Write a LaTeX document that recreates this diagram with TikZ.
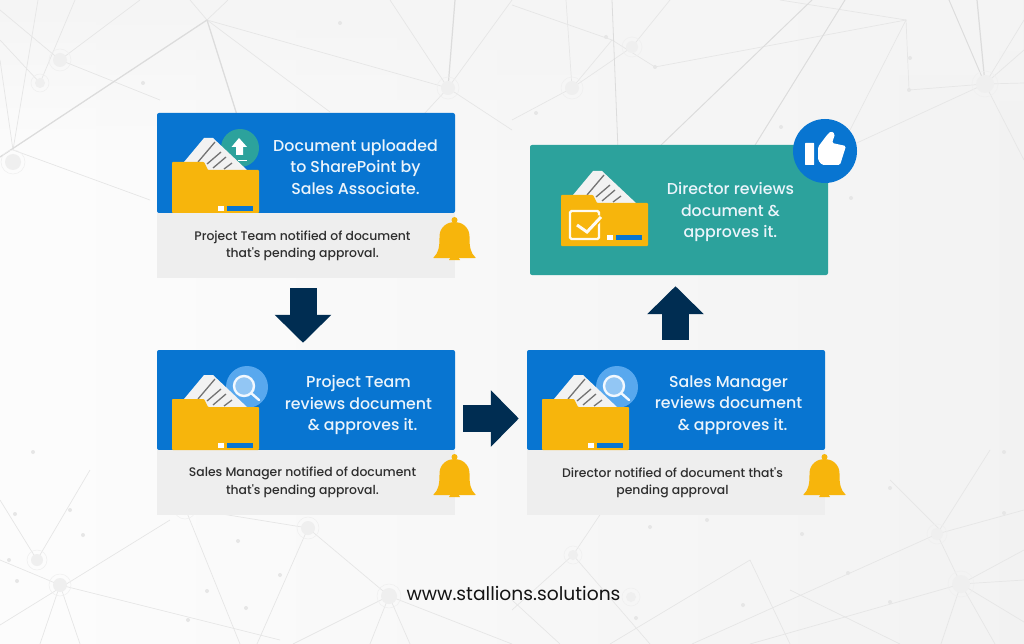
\documentclass[tikz,border=0pt]{standalone}
\usepackage{fontspec}
\setmainfont{Poppins}
\newfontfamily\poppinsmed{Poppins Medium}
\usetikzlibrary{arrows.meta,fadings}
\definecolor{cardblue}{HTML}{0875D1}
\definecolor{cardteal}{HTML}{2CA29C}
\definecolor{notegray}{HTML}{EEEEEE}
\definecolor{foldgold}{HTML}{F7B50C}
\definecolor{arrownavy}{HTML}{002D52}
\definecolor{meshgray}{HTML}{E6E6E6}
\definecolor{meshdark}{HTML}{DCDCDC}
\definecolor{hubgray}{HTML}{EFEFEF}
\definecolor{lensblue}{HTML}{58A8EE}
\tikzset{
  cardhead/.style={rectangle, rounded corners=2pt, inner sep=0pt, minimum width=298pt, minimum height=100pt, fill=cardblue},
  notebox/.style={rectangle, inner sep=0pt, minimum width=298pt, minimum height=65pt, fill=notegray},
  titletext/.style={align=center, inner sep=0pt, text=white!92!cardblue, font={\poppinsmed\fontsize{15.8}{21.3}\selectfont}},
  notetext/.style={align=center, inner sep=0pt, text=black!82, font={\poppinsmed\fontsize{12.4}{17.5}\selectfont}},
  blockarrow/.style={line width=27pt, arrownavy, -{Triangle[length=28pt,width=55pt]}},
  mesh/.style={meshgray, line width=0.7pt},
  docfolder/.pic={
    \fill[white!95!black] (12,-51) -- (32,-75) -- (41,-75) -- (75,-43) -- (75,-30) -- (12,-30) -- cycle;
    \draw[black!55, line width=1.3pt] (26,-51) -- (43,-71) (35,-49) -- (49,-61) (41,-45) -- (54,-56) (52,-44) -- (60,-50);
    \fill[foldgold, rounded corners=0.8pt] (0,0) -- (0,-51) -- (32,-51) -- (36,-43) -- (87,-43) -- (87,0) -- cycle;
  },
  folderbar/.pic={
    \fill[white] (46,-7) rectangle (52,-2);
    \fill[cardblue] (55,-7) rectangle (81,-2);
  },
  lensbadge/.pic={
    \fill[lensblue] (75,-63) circle (21);
    \fill[white!35!lensblue] (72,-64) circle (10);
  },
  lensring/.pic={
    \draw[white!92!lensblue, line width=2.4pt] (72,-64) circle (10);
    \draw[white!92!lensblue, line width=2.4pt, line cap=round] (79,-57) -- (87,-50);
  },
  bellicon/.pic={
    \fill[foldgold] (0,-38) circle (3);
    \fill[foldgold, rounded corners=0.6pt] (-21.5,0) .. controls (-16,-5) and (-15,-11) .. (-15,-21) .. controls (-15,-31) and (-7,-36) .. (0,-36) .. controls (7,-36) and (15,-31) .. (15,-21) .. controls (15,-11) and (16,-5) .. (21.5,0) -- cycle;
    \fill[foldgold] (-5.5,2) -- (5.5,2) arc (0:-180:5.5 and 3.5) -- cycle;
  },
}
\begin{document}
\begin{tikzpicture}[x=1pt,y=-1pt]
\useasboundingbox (0,0) rectangle (1024,644);
% Background
\shade[left color=white!99!black, right color=black!5] (0,0) rectangle (1024,644);
\fill[black!4, path fading=south] (0,0) rectangle (1024,150);
\begin{scope}
\clip (0,0) rectangle (1024,644);
% Mesh, top
\foreach \ax/\ay/\bx/\by in {207/20/190/0, 207/20/228/0, 207/20/0/157, 207/20/448/88, 207/20/330/112, 207/20/237/115,
  448/88/390/0, 448/88/512/0, 448/88/512/130, 448/88/400/140, 13/150/38/0, 13/150/150/200, 13/150/0/60, 60/60/0/10,
  60/60/140/0, 40/83/0/40, 40/83/75/0, 60/60/160/100,
  985/84/949/0, 985/84/1024/20, 985/84/1024/50, 985/84/1024/83, 985/84/1024/160, 985/84/848/147, 985/84/909/90,
  845/0/752/150, 812/0/659/147, 906/20/655/67, 906/20/909/90, 512/5/612/40, 612/40/655/67, 572/88/512/120, 572/88/566/0,
  632/47/670/0, 632/47/572/88, 612/40/572/88, 906/20/780/0, 906/20/850/130}
  {\draw[mesh] (\ax,\ay) -- (\bx,\by);}
\draw[meshdark, line width=1.2pt] (448,88) -- (455,0) (985,84) -- (977,0) (207,20) -- (237,115) (207,20) -- (0,157);
\draw[meshdark, line width=0.8pt] (612,0) -- (618,150) (845,0) -- (752,150) (812,0) -- (659,147) (985,84) -- (949,0);
% Mesh, bottom
\foreach \ax/\ay/\bx/\by in {389/596/293/644, 389/596/370/644, 389/596/410/644, 389/596/512/644, 389/596/308/528,
  308/528/257/644, 308/528/185/508, 185/508/240/644, 0/625/170/520, 60/585/80/644, 60/585/40/644, 60/585/0/560,
  37/560/0/500, 37/560/90/470, 60/585/280/640, 961/584/941/644, 961/584/995/644, 961/584/1024/622, 961/584/1024/580,
  961/584/1024/550, 961/584/750/644, 937/534/961/584, 937/534/1024/510, 937/534/692/644, 937/534/990/450, 750/560/610/644,
  750/560/790/644, 573/555/512/610, 573/555/630/470, 573/555/650/644, 790/590/900/644, 890/480/940/530, 512/600/560/644}
  {\draw[mesh] (\ax,\ay) -- (\bx,\by);}
% Hubs and dots
\foreach \hx/\hy/\hr in {448/88/7, 985/84/9, 961/584/9, 389/596/8, 13/162/8, 60/60/7, 40/83/5, 308/528/7, 185/508/7, 60/585/7, 37/560/6, 572/88/7, 632/47/6, 937/534/6, 573/555/5, 631/597/5}
  {\fill[hubgray] (\hx,\hy) circle (\hr);
   \draw[hubgray, line width=0.5pt] (\hx,\hy) circle (\hr+4);}
\foreach \dx/\dy in {143/83, 340/23, 606/37, 655/67, 536/113, 781/127, 909/90, 910/58, 851/198, 33/452, 15/514, 70/510, 83/535, 238/541,
  9/560, 17/581, 280/575, 207/591, 246/608, 188/620, 650/527, 636/618, 707/520, 802/534, 848/573, 890/602, 1004/452, 890/488, 1004/513, 743/605}
  {\fill[meshgray] (\dx,\dy) circle (2);}
\end{scope}
% Card bodies
\node[cardhead] (uploadhead) at (306,163) {};
\node[notebox] (uploadnote) at (306,245.5) {};
\node[cardhead] (teamhead) at (306,400) {};
\node[notebox] (teamnote) at (306,482.5) {};
\node[cardhead] (managerhead) at (676,400) {};
\node[notebox] (managernote) at (676,482.5) {};
\node[cardhead, fill=cardteal, minimum height=130pt] (directorcard) at (679,210) {};
% Folder icons
\fill[cardteal] (240,148) circle (19);
\fill[white] (239,138) -- (247,147) -- (243,147) -- (243,155) -- (236,155) -- (236,147) -- (231.5,147) -- cycle;
\pic at (172,213) {docfolder};
\pic at (172,213) {folderbar};
\draw[white, line width=0.8pt] (238,160) -- (247,160);
\pic at (172,450) {lensbadge};
\pic at (172,450) {docfolder};
\pic at (172,450) {folderbar};
\pic at (172,450) {lensring};
\pic at (542,450) {lensbadge};
\pic at (542,450) {docfolder};
\pic at (542,450) {folderbar};
\pic at (542,450) {lensring};
\pic at (561,246) {docfolder};
\pic at (561,242) {folderbar};
\draw[white!95!foldgold, line width=2.4pt, rounded corners=1.5pt] (570,211) rectangle (599,239);
\draw[foldgold, line width=6pt] (577,225) -- (587,232) -- (601,217);
\draw[white!95!foldgold, line width=3pt] (577,225) -- (587,232) -- (601,217);
% Bells
\pic at (454.5,258) {bellicon};
\pic at (454.5,495) {bellicon};
\pic at (824.5,495) {bellicon};
% Thumb badge
\node[circle, fill=cardblue, inner sep=0pt, minimum size=64pt] (thumbbadge) at (825,151) {};
\fill[white, rounded corners=0.5pt] (805,143) rectangle (814,165);
\fill[white, rounded corners=1.6pt] (818,147) -- (827,135) -- (831,131) -- (835,134) -- (832,143) -- (846,146) -- (840,165) -- (822,165) -- (818,160) -- cycle;
% Titles
\node[titletext] (uploadtitle) at (355.5,167) {Document uploaded\\to SharePoint by\\Sales Associate.};
\node[titletext] (teamtitle) at (358.5,405) {Project Team\\reviews document\\\ \ \& approves it.};
\node[titletext] (managertitle) at (728.5,405) {Sales Manager\\reviews document\\\ \ \& approves it.};
\node[titletext] (directortitle) at (730.5,212) {Director reviews\\document \&\\approves it.};
% Notes
\node[notetext] (uploadtext) at (302.5,246) {Project Team notified of document\\that's pending approval.};
\node[notetext] (teamtext) at (302.5,482.5) {Sales Manager notified of document\\that's pending approval.};
\node[notetext] (managertext) at (672.5,482.5) {Director notified of document that's\\pending approval};
% Arrows
\draw[blockarrow, shorten <=10pt, shorten >=7pt] ([xshift=-3pt]uploadnote.south) -- ([xshift=-3pt]teamhead.north);
\draw[blockarrow, shorten <=8pt, shorten >=8pt] ([yshift=-18.5pt]teamhead.east) -- ([yshift=-18.5pt]managerhead.west);
\draw[blockarrow, shorten <=10pt, shorten >=11pt] ([xshift=-0.5pt]managerhead.north) -- ([xshift=-3.5pt]directorcard.south);
% Footer
\node[inner sep=0pt, text=black!92, font={\fontsize{18.7}{22}\selectfont}] (sitelabel) at (513.5,593) {www.stallions.solutions};
\end{tikzpicture}
\end{document}
